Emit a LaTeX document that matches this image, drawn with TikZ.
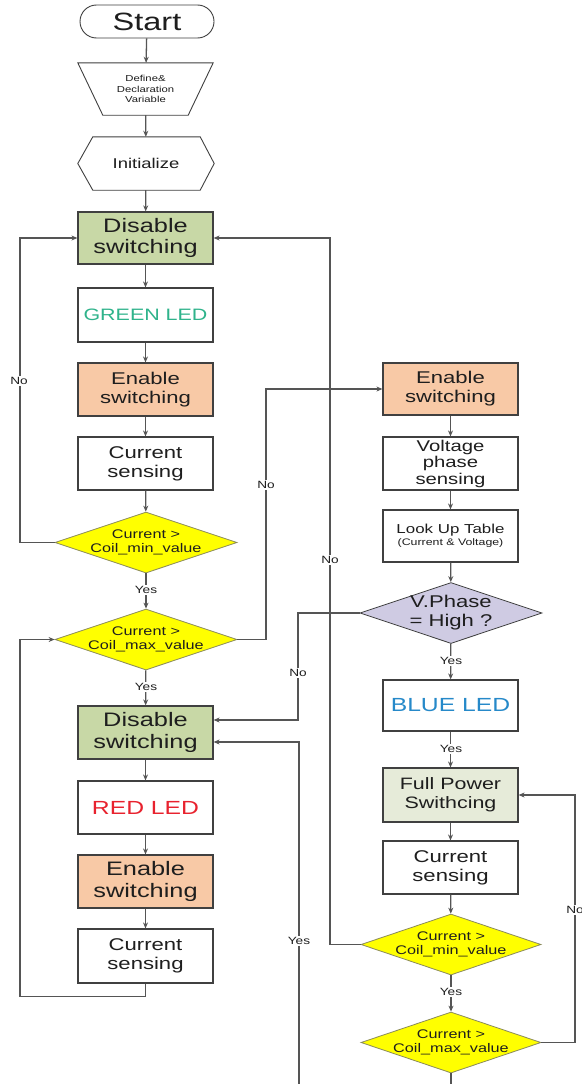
\documentclass[tikz,border=0pt]{standalone}
\usepackage{fontspec}
\setmainfont[FakeStretch=1.3]{Liberation Sans}
\usetikzlibrary{arrows.meta,shapes.geometric,calc}
\definecolor{boxline}{HTML}{404040}
\definecolor{linec}{HTML}{555555}
\definecolor{textc}{HTML}{1E1E1E}
\definecolor{gfill}{HTML}{C8D8A6}
\definecolor{ofill}{HTML}{F8C9A6}
\definecolor{fpfill}{HTML}{E6EBD9}
\definecolor{lav}{HTML}{CFCBE3}
\definecolor{yel}{HTML}{FFFF00}
\definecolor{dialine}{HTML}{8A8A5A}
\definecolor{greentxt}{HTML}{2FB38B}
\definecolor{redtxt}{HTML}{E8222E}
\definecolor{bluetxt}{HTML}{2689C9}
\newcommand{\fsz}[2]{\fontsize{#1}{#2}\selectfont}
\begin{document}
\begin{tikzpicture}[x=1pt,y=-1pt,
  box/.style={draw=boxline, line width=1.2pt, minimum width=135pt, inner sep=0pt, align=center, text=textc},
  plain/.style={minimum width=135pt, inner sep=0pt, align=center, text=textc},
  thinb/.style={draw=boxline, line width=0.9pt},
  dia/.style={diamond, draw=dialine, line width=0.8pt, fill=yel, minimum width=182pt, minimum height=61pt, inner sep=0pt, aspect=3},
  diatext/.style={align=center, inner sep=0pt, text=textc, font=\fsz{12.5}{14.5}},
  arr/.style={draw=linec, line width=1.3pt, -{Stealth[length=6pt,width=5pt]}},
  ln/.style={draw=linec, line width=1.3pt},
  lab/.style={fill=white, inner sep=1pt, text=textc, font=\fsz{10.5}{12}}
]
\useasboundingbox (0,0) rectangle (581,1084);
\fill[white] (0,0) rectangle (581,1084);

% loop x positions and free ends
\coordinate (xL) at (20,0);
\coordinate (xA) at (266,0);
\coordinate (xB) at (298,0);
\coordinate (xC) at (330,0);
\coordinate (xR) at (575,0);
\coordinate (b1) at (451,1084);
\coordinate (b2) at (299,1084);

% top
\node[box, line width=0.9pt, rounded corners=16.5pt, minimum width=134pt, minimum height=33pt, font=\fsz{25}{28}] (start) at (147,21.5) {Start};
\node[plain, minimum height=52pt, font=\fsz{8.7}{10.5}] (def) at (145.5,89) {Define\&\\Declaration\\Variable};
\draw[thinb] (def.north west) -- (def.north east) -- ($(def.south east)+(-25,0)$) -- ($(def.south west)+(25,0)$) -- cycle;
\node[plain, minimum width=136pt, minimum height=53pt, font=\fsz{14.2}{16}] (init) at (146,163.5) {Initialize};
\draw[thinb] (init.west) -- ($(init.north west)+(15,0)$) -- ($(init.north east)+(-14,0)$) -- (init.east) -- ($(init.south east)+(-14,0)$) -- ($(init.south west)+(15,0)$) -- cycle;

% left column
\node[box, fill=gfill, minimum height=52pt, font=\fsz{19.5}{21.5}] (dis1) at (145.5,238) {Disable\\switching};
\node[box, minimum height=54pt, font=\fsz{16.5}{18}, text=greentxt] (green) at (145.5,315) {GREEN LED};
\node[box, fill=ofill, minimum height=53pt, font=\fsz{17}{19}] (en1) at (145.5,389.5) {Enable\\switching};
\node[box, minimum height=53pt, font=\fsz{17}{19}] (cs1) at (145.5,463.5) {Current\\sensing};
\node[dia] (d1) at (146,542.5) {};
\node[diatext] at (d1) {Current >\\Coil\_min\_value};
\node[dia] (d2) at (146,639.5) {};
\node[diatext] at (d2) {Current >\\Coil\_max\_value};
\node[box, fill=gfill, minimum height=53pt, font=\fsz{19.5}{21.5}] (dis2) at (145.5,732.5) {Disable\\switching};
\node[box, minimum height=53pt, font=\fsz{19}{21}, text=redtxt] (red) at (145.5,807.5) {RED LED};
\node[box, fill=ofill, minimum height=53pt, font=\fsz{19.5}{21.5}] (en2) at (145.5,881.5) {Enable\\switching};
\node[box, minimum height=54pt, font=\fsz{17}{19}] (cs2) at (145.5,956) {Current\\sensing};

% right column
\node[box, fill=ofill, minimum height=52pt, font=\fsz{17}{19}] (en3) at (450.5,389) {Enable\\switching};
\node[box, minimum height=53pt, font=\fsz{15.6}{16.5}] (vps) at (450.5,463.5) {Voltage\\phase\\sensing};
\node[box, minimum height=52pt] (lut) at (450.5,536) {{\fsz{13}{15}Look Up Table}\\{\fsz{9.5}{12}(Current \& Voltage)}};
\node[dia, fill=lav, draw=boxline] (vph) at (451,613) {};
\node[diatext, font=\fsz{17}{19}] at (vph) {V.Phase\\= High ?};
\node[box, minimum height=51pt, font=\fsz{19}{21}, text=bluetxt] (blue) at (450.5,705.5) {BLUE LED};
\node[box, fill=fpfill, minimum height=54pt, font=\fsz{16.5}{19}] (fp) at (450.5,795) {Full Power\\Swithcing};
\node[box, minimum height=53pt, font=\fsz{17}{19}] (cs3) at (450.5,867.5) {Current\\sensing};
\node[dia, minimum width=180pt] (d3) at (451,944.5) {};
\node[diatext] at (d3) {Current >\\Coil\_min\_value};
\node[dia, minimum width=180pt] (d4) at (451,1042.5) {};
\node[diatext] at (d4) {Current >\\Coil\_max\_value};

\coordinate (dis2a) at ($(dis2.east)+(0,-12.5)$);
\coordinate (dis2b) at ($(dis2.east)+(0,9.5)$);

% straight connectors
\draw[arr] (start) -- (def);
\draw[arr] (def) -- (init);
\draw[arr] (init) -- (dis1);
\draw[arr] (dis1) -- (green);
\draw[arr] (green) -- (en1);
\draw[arr] (en1) -- (cs1);
\draw[arr] (cs1) -- (d1);
\draw[arr] (d1) -- (d2);
\draw[arr] (d2) -- (dis2);
\draw[arr] (dis2) -- (red);
\draw[arr] (red) -- (en2);
\draw[arr] (en2) -- (cs2);
\draw[arr] (en3) -- (vps);
\draw[arr] (vps) -- (lut);
\draw[arr] (lut) -- (vph);
\draw[arr] (vph) -- (blue);
\draw[arr] (blue) -- (fp);
\draw[arr] (fp) -- (cs3);
\draw[arr] (cs3) -- (d3);
\draw[arr] (d3) -- (d4);

% loops
\draw[arr] (d1.west) -- (d1.west -| xL) -- (dis1.west -| xL) -- (dis1.west);
\draw[arr] (cs2.south) -- ++(0,13) -| (d2.west -| xL) -- (d2.west);
\draw[arr] (d2.east) -- (d2.east -| xA) -- (en3.west -| xA) -- (en3.west);
\draw[arr] (d3.west) -- (d3.west -| xC) -- (dis1.east -| xC) -- (dis1.east);
\draw[arr] (vph.west) -- (vph.west -| xB) -- (dis2a -| xB) -- (dis2a);
\draw[arr] (b2) -- (dis2b -| b2) -- (dis2b);
\draw[arr] (d4.east) -- (d4.east -| xR) -- (fp.east -| xR) -- (fp.east);
\draw[ln] (d4.south) -- (b1);

% labels
\node[lab] at (19,381) {No};
\node[lab] at (146,590) {Yes};
\node[lab] at (146,687) {Yes};
\node[lab] at (266,485) {No};
\node[lab] at (330,560) {No};
\node[lab] at (298,673) {No};
\node[lab] at (451,661) {Yes};
\node[lab] at (451,749) {Yes};
\node[lab] at (451,992) {Yes};
\node[lab] at (299,941) {Yes};
\node[lab] at (575,910) {No};
\end{tikzpicture}
\end{document}
